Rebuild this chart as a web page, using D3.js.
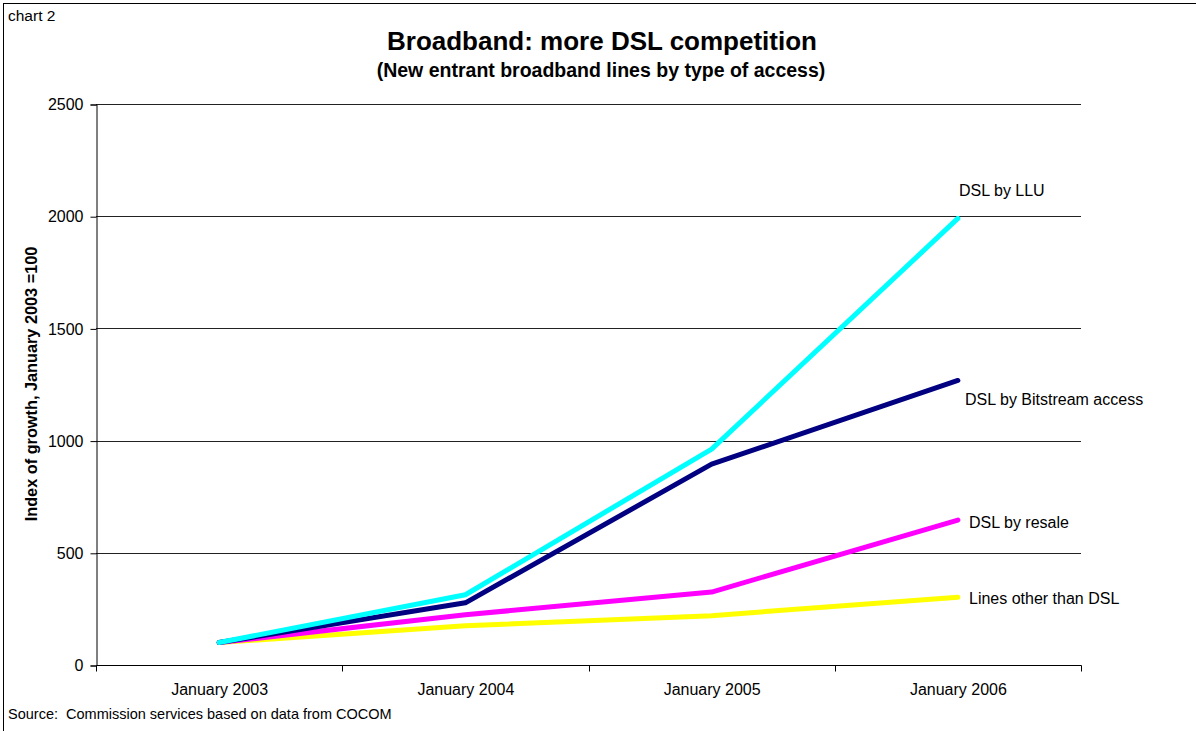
<!DOCTYPE html>
<html><head><meta charset="utf-8">
<script src="https://cdn.jsdelivr.net/npm/d3@7"></script>
<style>body{margin:0;background:#fff;} svg{display:block;font-family:"Liberation Sans",Arial,sans-serif;}</style>
</head><body>
<script>
const categories = ["January 2003", "January 2004", "January 2005", "January 2006"];
const seriesNames = ["Lines other than DSL", "DSL by resale", "DSL by Bitstream access", "DSL by LLU"];
const otherValues = [100, 175, 220, 302];
const resaleValues = [100, 224, 325, 646];
const bitstreamValues = [100, 277, 895, 1268];
const lluValues = [100, 313, 962, 1990];
const yTicks = [0, 500, 1000, 1500, 2000, 2500];

const W = 1196, H = 731;
const svg = d3.select("body").append("svg").attr("width", W).attr("height", H);
svg.append("rect").attr("x", 3.5).attr("y", 3.5).attr("width", W + 10).attr("height", H + 10)
  .attr("fill", "#fff").attr("stroke", "#000").attr("stroke-width", 1);

const L = 96, R = 1081, T = 104, B = 665;
const x = d3.scaleBand().domain(categories).range([L, R]);
const y = d3.scaleLinear().domain([0, 2500]).range([B, T]);
const FS = 16;

// gridlines
svg.append("g").selectAll("line").data(yTicks.filter(d => d > 0)).join("line")
  .attr("x1", L).attr("x2", R).attr("y1", d => Math.round(y(d)) + 0.5).attr("y2", d => Math.round(y(d)) + 0.5)
  .attr("stroke", "#222").attr("stroke-width", 1);

// y axis
const yAxis = svg.append("g").attr("transform", `translate(${L + 0.5},0.5)`)
  .call(d3.axisLeft(y).tickValues(yTicks).tickSize(6).tickPadding(7).tickFormat(d3.format("d")));
yAxis.selectAll("text").attr("font-size", FS).attr("fill", "#000").attr("font-family", "Liberation Sans, Arial, sans-serif");
yAxis.selectAll("line,path").attr("stroke", "#000");

// x axis
const xAxis = svg.append("g").attr("transform", `translate(0.5,${B + 0.5})`)
  .call(d3.axisBottom(x).tickSize(0).tickPadding(18));
xAxis.select("path").attr("d", `M${L},0H${R}`).attr("stroke", "#000");
xAxis.selectAll("text").attr("font-size", FS).attr("fill", "#000").attr("font-family", "Liberation Sans, Arial, sans-serif");
const bounds = categories.map(c => x(c)).concat([R]);
xAxis.selectAll(".bt").data(bounds).join("line").attr("class", "bt")
  .attr("x1", d => Math.round(d)).attr("x2", d => Math.round(d)).attr("y1", 0).attr("y2", 6).attr("stroke", "#000");

// series
const series = [
  {name: seriesNames[0], values: otherValues, color: "#ffff00", lx: 969, ly: 604},
  {name: seriesNames[1], values: resaleValues, color: "#ff00ff", lx: 969, ly: 528},
  {name: seriesNames[2], values: bitstreamValues, color: "#000080", lx: 965, ly: 405},
  {name: seriesNames[3], values: lluValues, color: "#00ffff", lx: 959, ly: 196}
];
const line = d3.line().x((d, i) => x(categories[i]) + x.bandwidth() / 2).y(d => y(d));
svg.append("g").selectAll("path").data(series).join("path")
  .attr("d", d => line(d.values)).attr("fill", "none").attr("stroke", d => d.color)
  .attr("stroke-width", 5).attr("stroke-linecap", "round").attr("stroke-linejoin", "round");
svg.append("g").selectAll("text").data(series).join("text")
  .attr("x", d => d.lx).attr("y", d => d.ly).attr("font-size", FS).text(d => d.name);

// titles
svg.append("text").attr("x", 602).attr("y", 50).attr("text-anchor", "middle")
  .attr("font-size", 26).attr("font-weight", "bold").text("Broadband: more DSL competition");
svg.append("text").attr("x", 601).attr("y", 77).attr("text-anchor", "middle")
  .attr("font-size", 19.5).attr("font-weight", "bold").text("(New entrant broadband lines by type of access)");
svg.append("text").attr("transform", "translate(37,384) rotate(-90)").attr("text-anchor", "middle")
  .attr("font-size", 16.3).attr("font-weight", "bold").text("Index of growth, January 2003 =100");
svg.append("text").attr("x", 8).attr("y", 21).attr("font-size", 15.5).text("chart 2");
svg.append("text").attr("x", 8).attr("y", 719).attr("font-size", 14.5).text("Source:  Commission services based on data from COCOM").style("white-space", "pre");
</script>
</body></html>
